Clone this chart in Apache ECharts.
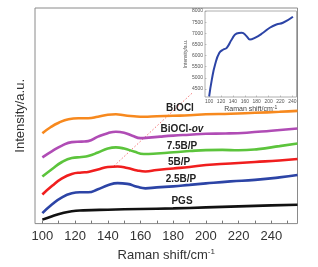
<!DOCTYPE html>
<html><head><meta charset="utf-8">
<script src="https://cdn.jsdelivr.net/npm/echarts@6/dist/echarts.min.js"></script>
<style>html,body{margin:0;padding:0;background:#fff}#c{width:318px;height:267px}</style>
</head><body><div id="c"></div>
<script>
// Main chart: x = Raman shift, y = offset intensity (a.u.)
const xTicks = [100,120,140,160,180,200,220,240];
const xMinorTicks = [100,110,120,130,140,150,160,170,180,190,200,210,220,230,240,250];
const seriesNames = ['BiOCl','BiOCl-ov','7.5B/P','5B/P','2.5B/P','PGS'];
const bioclData = [[100,91],[105,97],[110,101.5],[116,105],[122,106],[128,106],[134,107.5],[140,109.5],[145,110],[150,109],[156,108],[162,107.5],[170,108],[180,108.5],[190,109],[200,110],[215,110.5],[230,111.5],[245,112.5],[256,113.5]];
const bioclOvData = [[100,66.7],[106,73],[112,78.5],[118,82],[124,82.5],[128,83],[134,87.5],[140,91],[145,92.5],[150,91.5],[155,88.5],[160,86],[165,86.5],[172,87.5],[180,88.5],[190,89.5],[200,90.5],[212,90.7],[225,91.5],[240,93.5],[256,95.7]];
const b75Data = [[100,47.3],[106,55],[112,62],[118,66],[124,67],[128,68],[134,71.5],[140,75.5],[145,76.7],[150,75.5],[156,72.5],[162,70],[170,70.5],[178,71.5],[190,73],[200,74],[210,74.2],[220,73.8],[232,75],[245,78],[256,80.7]];
const b5Data = [[100,29.3],[106,38],[112,45.5],[118,50],[124,51.5],[128,52],[134,54.5],[140,57],[146,57.5],[152,56],[158,53.5],[163,52.5],[170,54],[180,55.5],[190,57],[200,59],[215,60.5],[230,62],[245,63.5],[256,65]];
const b25Data = [[100,10.5],[106,19.5],[112,26.5],[118,30.5],[123,31.5],[128,31.5],[134,34.5],[140,38.5],[146,40.7],[152,40],[158,37],[163,35.5],[170,36.5],[180,37.5],[190,39],[200,40.5],[215,42.5],[230,44],[245,46.5],[256,49]];
const pgsData = [[100,4],[106,7.5],[112,10.5],[118,12.5],[125,13.3],[140,14],[160,14.7],[180,15.3],[200,16.3],[220,17.3],[240,18.3],[256,19]];
const connectorData = [[143.8,58],[192,132]];
// Inset
const insetXTicks = [100,120,140,160,180,200,220,240];
const insetYTicks = [4500,5000,5500,6000,6500,7000,7500,8000];
const insetData = [[100,4167],[104.5,4919],[110,5595],[117.2,6122],[123.9,6270],[129.6,6347],[138,6721],[146.3,6991],[154.7,7023],[163,6869],[168.6,6721],[176.9,6797],[190.8,7023],[202,7248],[213.2,7396],[224.2,7473],[241,7743]];

const colors = ['#f7891e','#b04cb5','#5cc43c','#f01e1e','#2c44a6','#111111'];
const datas = [bioclData,bioclOvData,b75Data,b5Data,b25Data,pgsData];
const FONT = '"Liberation Sans", Arial, sans-serif';

const chart = echarts.init(document.getElementById('c'), null, {renderer:'canvas'});
const series = datas.map((d,i)=>({
  name: seriesNames[i], type:'line', data:d, smooth:0.5, showSymbol:false,
  xAxisIndex:0, yAxisIndex:0,
  lineStyle:{color:colors[i], width:2.6}, silent:true, z:3
}));
series.push({type:'line', data:connectorData, showSymbol:false, xAxisIndex:0, yAxisIndex:0,
  lineStyle:{color:'#f05050', width:0.8, type:[1.5,2]}, silent:true, z:2});
series.push({type:'line', data:insetData, smooth:0.5, showSymbol:false, xAxisIndex:1, yAxisIndex:1,
  lineStyle:{color:'#2c44a6', width:2}, silent:true, z:5});

const labelPos = [[180,108],[182,129],[182,146],[179,162],[181,179],[182,201.5]];
const graphics = seriesNames.map((n,i)=>({
  type:'text', x:labelPos[i][0], y:labelPos[i][1], z:10,
  style:{ text: i===1 ? '{b|BiOCl-}{i|ov}' : n,
    rich:{b:{font:'bold 10px '+FONT, fill:'#222'}, i:{font:'italic bold 10px '+FONT, fill:'#222'}},
    font:'bold 10px '+FONT, fill:'#222', align:'center', verticalAlign:'middle'}
}));

chart.setOption({
  animation:false,
  grid:[
    {left:35, right:20.5, top:8, bottom:42, show:true, borderColor:'#8a8a8a', borderWidth:1},
    {left:205, right:21.5, top:11, bottom:170, show:true, borderColor:'#9a9a9a', borderWidth:0.8, backgroundColor:'#fff', z:4}
  ],
  xAxis:[
    {type:'value', gridIndex:0, min:95.5, max:256,
     name:'{m|Raman shift/cm}{s|-1}', nameLocation:'middle', nameGap:21,
     nameTextStyle:{rich:{m:{fontFamily:FONT, fontSize:13, color:'#333'}, s:{fontFamily:FONT, fontSize:8, color:'#333', verticalAlign:'top', padding:[0,0,8,0]}}},
     axisLine:{show:false}, splitLine:{show:false},
     axisTick:{show:true, inside:true, length:3, customValues:xMinorTicks, lineStyle:{color:'#777'}},
     axisLabel:{customValues:xTicks, fontFamily:FONT, fontSize:13, color:'#333', margin:6}},
    {type:'value', gridIndex:1, min:93, max:247,
     name:'{m|Raman shift/cm}{s|-1}', nameLocation:'middle', nameGap:8,
     nameTextStyle:{rich:{m:{fontFamily:FONT, fontSize:7, color:'#444'}, s:{fontFamily:FONT, fontSize:5, color:'#444', verticalAlign:'top', padding:[0,0,4,0]}}},
     axisLine:{show:false}, splitLine:{show:false},
     axisTick:{show:true, inside:true, length:1.5, customValues:insetXTicks, lineStyle:{color:'#999', width:0.6}},
     axisLabel:{customValues:insetXTicks, fontFamily:FONT, fontSize:5, color:'#555', margin:2}, z:5}
  ],
  yAxis:[
    {type:'value', gridIndex:0, min:0, max:217,
     name:'Intensity/a.u.', nameLocation:'middle', nameGap:8,
     nameTextStyle:{fontFamily:FONT, fontSize:13, color:'#333'},
     axisLine:{show:false}, axisTick:{show:false}, axisLabel:{show:false}, splitLine:{show:false}},
    {type:'value', gridIndex:1, min:4140, max:8000,
     name:'Intensity/a.u.', nameLocation:'middle', nameGap:12,
     nameTextStyle:{fontFamily:FONT, fontSize:5, color:'#555'},
     axisLine:{show:false}, splitLine:{show:false},
     axisTick:{show:true, inside:true, length:1.5, customValues:insetYTicks, lineStyle:{color:'#999', width:0.6}},
     axisLabel:{customValues:insetYTicks, formatter:(v)=>String(v), fontFamily:FONT, fontSize:5, color:'#555', margin:2}, z:5}
  ],
  series: series,
  graphic: graphics
});
</script></body></html>
